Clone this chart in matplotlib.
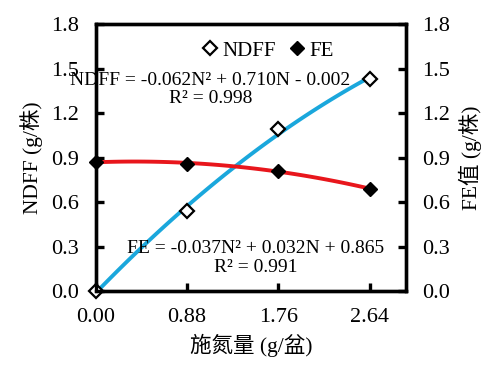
import matplotlib
matplotlib.use("Agg")
import matplotlib.pyplot as plt
import numpy as np

plt.rcParams['font.family'] = ['Liberation Serif', 'Noto Sans CJK SC']

# data
n_rate = [0.00, 0.88, 1.76, 2.64]
ndff = [0.00, 0.54, 1.09, 1.43]
fe = [0.87, 0.86, 0.81, 0.69]
x_ticks = [0.00, 0.88, 1.76, 2.64]
y_ticks = [0.0, 0.3, 0.6, 0.9, 1.2, 1.5, 1.8]

fig, ax = plt.subplots(figsize=(4.89, 3.70), dpi=100)
fig.subplots_adjust(left=0.196, right=0.83, top=0.935, bottom=0.213)
ax2 = ax.twinx()

# quadratic trend lines fitted to the points
xs = np.linspace(0, 2.64, 100)
p1 = np.polyfit(n_rate, ndff, 2)
p2 = np.polyfit(n_rate, fe, 2)
ax.plot(xs, np.polyval(p1, xs), color='#1aa7dc', lw=2.8, zorder=2)
ax.plot(xs, np.polyval(p2, xs), color='#e8161c', lw=2.8, zorder=2)

ax.plot(n_rate, ndff, ls='none', marker='D', ms=7, mfc='white', mec='black',
        mew=1.6, label='NDFF', zorder=3, clip_on=False)
ax.plot(n_rate, fe, ls='none', marker='D', ms=7, mfc='black', mec='black',
        label='FE', zorder=3, clip_on=False)

ax.set_xlim(0, 2.99)
ax.set_ylim(0, 1.8)
ax2.set_ylim(0, 1.8)
ax.set_xticks(x_ticks)
ax.set_xticklabels(['%.2f' % v for v in x_ticks])
ax.set_yticks(y_ticks)
ax.set_yticklabels(['%.1f' % v for v in y_ticks])
ax2.set_yticks(y_ticks)
ax2.set_yticklabels(['%.1f' % v for v in y_ticks])

for a in (ax, ax2):
    for s in a.spines.values():
        s.set_linewidth(2.4)
    a.tick_params(direction='in', length=6, width=2.4, labelsize=16, pad=12)
ax.tick_params(axis='x', pad=12)

ax.set_xlabel('施氮量 (g/盆)', fontsize=15.5, labelpad=5)
ax.set_ylabel('NDFF (g/株)', fontsize=15.5, labelpad=6)
ax2.set_ylabel('FE值 (g/株)', fontsize=15.5, labelpad=6)

ax.legend(loc='center', bbox_to_anchor=(0.55, 0.9), ncol=2, frameon=False,
          fontsize=15, handletextpad=0.1, columnspacing=0.5, handlelength=1.0,
          borderaxespad=0)

ax.text(0.37, 0.755, 'NDFF = -0.062N² + 0.710N - 0.002\nR² = 0.998',
        transform=ax.transAxes, ha='center', va='center', fontsize=14,
        linespacing=1.15)
ax.text(0.516, 0.124, 'FE = -0.037N² + 0.032N + 0.865\nR² = 0.991',
        transform=ax.transAxes, ha='center', va='center', fontsize=14,
        linespacing=1.15)

fig.savefig('out.png')
